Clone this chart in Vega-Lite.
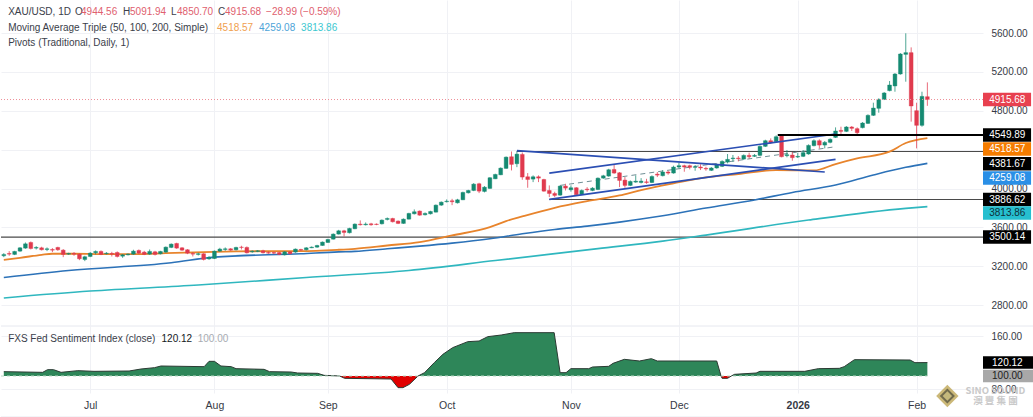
{"$schema":"https://vega.github.io/schema/vega-lite/v6.json","background":"#ffffff","padding":0,"spacing":0,"config":{"view":{"stroke":null},"font":"Liberation Sans","concat":{"spacing":0}},
"datasets":{
"candles":[
{"i":-16,"o":3308,"h":3335,"l":3294,"c":3322},{"i":-15,"o":3332,"h":3356,"l":3308,"c":3325},{"i":-14,"o":3322,"h":3359,"l":3315,"c":3353},{"i":-13,"o":3356,"h":3397,"l":3349,"c":3390},{"i":-12,"o":3387,"h":3445,"l":3380,"c":3431},{"i":-11,"o":3445,"h":3455,"l":3373,"c":3383},{"i":-10,"o":3387,"h":3407,"l":3373,"c":3394},{"i":-9,"o":3390,"h":3401,"l":3363,"c":3370},{"i":-8,"o":3373,"h":3394,"l":3356,"c":3380},{"i":-7,"o":3373,"h":3387,"l":3346,"c":3366},{"i":-6,"o":3394,"h":3401,"l":3359,"c":3370},{"i":-5,"o":3366,"h":3377,"l":3294,"c":3322},{"i":-4,"o":3325,"h":3339,"l":3318,"c":3332},{"i":-3,"o":3332,"h":3346,"l":3308,"c":3325},{"i":-2,"o":3325,"h":3332,"l":3263,"c":3277},{"i":-1,"o":3270,"h":3308,"l":3253,"c":3298},
{"i":0,"o":3301,"h":3346,"l":3294,"c":3335},{"i":1,"o":3339,"h":3363,"l":3322,"c":3353},{"i":2,"o":3353,"h":3363,"l":3315,"c":3322},{"i":3,"o":3329,"h":3346,"l":3322,"c":3335},{"i":4,"o":3332,"h":3349,"l":3301,"c":3325},{"i":5,"o":3342,"h":3353,"l":3291,"c":3301},{"i":6,"o":3304,"h":3325,"l":3287,"c":3318},{"i":7,"o":3318,"h":3332,"l":3311,"c":3325},{"i":8,"o":3325,"h":3370,"l":3318,"c":3356},{"i":9,"o":3363,"h":3373,"l":3325,"c":3335},{"i":10,"o":3346,"h":3359,"l":3315,"c":3322},{"i":11,"o":3325,"h":3373,"l":3318,"c":3353},{"i":12,"o":3349,"h":3359,"l":3311,"c":3322},{"i":13,"o":3329,"h":3359,"l":3322,"c":3353},{"i":14,"o":3346,"h":3404,"l":3339,"c":3397},{"i":15,"o":3394,"h":3435,"l":3387,"c":3428},{"i":16,"o":3435,"h":3442,"l":3380,"c":3387},{"i":17,"o":3390,"h":3397,"l":3359,"c":3366},{"i":18,"o":3370,"h":3377,"l":3325,"c":3335},{"i":19,"o":3332,"h":3346,"l":3301,"c":3325},{"i":20,"o":3322,"h":3339,"l":3311,"c":3329},{"i":21,"o":3329,"h":3335,"l":3260,"c":3270},{"i":22,"o":3277,"h":3304,"l":3266,"c":3291},
{"i":23,"o":3280,"h":3363,"l":3274,"c":3356},{"i":24,"o":3356,"h":3390,"l":3349,"c":3377},{"i":25,"o":3373,"h":3394,"l":3359,"c":3380},{"i":26,"o":3380,"h":3387,"l":3359,"c":3366},{"i":27,"o":3370,"h":3401,"l":3363,"c":3394},{"i":28,"o":3397,"h":3411,"l":3373,"c":3394},{"i":29,"o":3394,"h":3404,"l":3332,"c":3339},{"i":30,"o":3349,"h":3363,"l":3339,"c":3356},{"i":31,"o":3353,"h":3366,"l":3346,"c":3359},{"i":32,"o":3359,"h":3370,"l":3332,"c":3339},{"i":33,"o":3342,"h":3353,"l":3329,"c":3335},{"i":34,"o":3342,"h":3349,"l":3325,"c":3335},{"i":35,"o":3342,"h":3349,"l":3315,"c":3322},{"i":36,"o":3318,"h":3356,"l":3311,"c":3349},{"i":37,"o":3349,"h":3356,"l":3322,"c":3329},{"i":38,"o":3346,"h":3383,"l":3339,"c":3377},{"i":39,"o":3373,"h":3380,"l":3359,"c":3366},{"i":40,"o":3370,"h":3397,"l":3363,"c":3390},{"i":41,"o":3390,"h":3404,"l":3387,"c":3397},{"i":42,"o":3397,"h":3421,"l":3390,"c":3414},{"i":43,"o":3414,"h":3455,"l":3411,"c":3449},
{"i":44,"o":3445,"h":3483,"l":3442,"c":3476},{"i":45,"o":3479,"h":3538,"l":3476,"c":3531},{"i":46,"o":3531,"h":3575,"l":3527,"c":3565},{"i":47,"o":3565,"h":3575,"l":3507,"c":3548},{"i":48,"o":3545,"h":3596,"l":3538,"c":3589},{"i":49,"o":3586,"h":3641,"l":3582,"c":3634},{"i":50,"o":3634,"h":3672,"l":3620,"c":3627},{"i":51,"o":3627,"h":3651,"l":3620,"c":3634},{"i":52,"o":3637,"h":3647,"l":3617,"c":3627},{"i":53,"o":3634,"h":3641,"l":3623,"c":3630},{"i":54,"o":3637,"h":3682,"l":3630,"c":3675},{"i":55,"o":3682,"h":3702,"l":3672,"c":3692},{"i":56,"o":3692,"h":3699,"l":3651,"c":3658},{"i":57,"o":3665,"h":3672,"l":3634,"c":3641},{"i":58,"o":3641,"h":3692,"l":3637,"c":3685},{"i":59,"o":3685,"h":3750,"l":3682,"c":3744},{"i":60,"o":3740,"h":3785,"l":3733,"c":3761},{"i":61,"o":3768,"h":3774,"l":3720,"c":3726},{"i":62,"o":3730,"h":3754,"l":3723,"c":3744},{"i":63,"o":3740,"h":3771,"l":3733,"c":3764},{"i":64,"o":3757,"h":3836,"l":3754,"c":3829},{"i":65,"o":3829,"h":3867,"l":3822,"c":3860},
{"i":66,"o":3864,"h":3888,"l":3857,"c":3870},{"i":67,"o":3874,"h":3894,"l":3829,"c":3864},{"i":68,"o":3853,"h":3894,"l":3846,"c":3884},{"i":69,"o":3884,"h":3967,"l":3881,"c":3960},{"i":70,"o":3956,"h":3987,"l":3949,"c":3980},{"i":71,"o":3980,"h":4056,"l":3973,"c":4045},{"i":72,"o":4049,"h":4059,"l":3953,"c":3973},{"i":73,"o":3970,"h":4025,"l":3960,"c":4014},{"i":74,"o":4001,"h":4117,"l":3997,"c":4111},{"i":75,"o":4100,"h":4152,"l":4097,"c":4145},{"i":76,"o":4141,"h":4217,"l":4138,"c":4210},{"i":77,"o":4207,"h":4330,"l":4203,"c":4323},{"i":78,"o":4327,"h":4381,"l":4186,"c":4248},{"i":79,"o":4255,"h":4385,"l":4220,"c":4354},{"i":80,"o":4351,"h":4371,"l":4090,"c":4118},{"i":81,"o":4121,"h":4159,"l":4008,"c":4093},{"i":82,"o":4097,"h":4135,"l":4066,"c":4121},{"i":83,"o":4121,"h":4135,"l":4066,"c":4107},{"i":84,"o":4093,"h":4100,"l":3967,"c":3973},{"i":85,"o":3980,"h":4032,"l":3912,"c":3949},{"i":86,"o":3949,"h":3967,"l":3912,"c":3929},{"i":87,"o":3932,"h":4032,"l":3925,"c":4025},{"i":88,"o":4025,"h":4049,"l":3980,"c":4004},
{"i":89,"o":3987,"h":4032,"l":3967,"c":4008},{"i":90,"o":4008,"h":4014,"l":3929,"c":3936},{"i":91,"o":3939,"h":3990,"l":3932,"c":3980},{"i":92,"o":3994,"h":4014,"l":3967,"c":3987},{"i":93,"o":3980,"h":4014,"l":3973,"c":4004},{"i":94,"o":3990,"h":4114,"l":3984,"c":4107},{"i":95,"o":4107,"h":4141,"l":4100,"c":4131},{"i":96,"o":4128,"h":4203,"l":4121,"c":4193},{"i":97,"o":4196,"h":4248,"l":4152,"c":4159},{"i":98,"o":4162,"h":4169,"l":4015,"c":4083},{"i":99,"o":4087,"h":4118,"l":4008,"c":4032},{"i":100,"o":4032,"h":4083,"l":4025,"c":4073},{"i":101,"o":4066,"h":4135,"l":4059,"c":4076},{"i":102,"o":4062,"h":4107,"l":4052,"c":4076},{"i":103,"o":4069,"h":4100,"l":4049,"c":4062},{"i":104,"o":4062,"h":4135,"l":4056,"c":4124},{"i":105,"o":4148,"h":4169,"l":4118,"c":4138},{"i":106,"o":4132,"h":4190,"l":4125,"c":4170},{"i":107,"o":4170,"h":4183,"l":4142,"c":4159},{"i":108,"o":4159,"h":4235,"l":4153,"c":4221},
{"i":109,"o":4221,"h":4266,"l":4207,"c":4235},{"i":110,"o":4235,"h":4245,"l":4173,"c":4221},{"i":111,"o":4235,"h":4245,"l":4197,"c":4218},{"i":112,"o":4218,"h":4242,"l":4183,"c":4224},{"i":113,"o":4221,"h":4249,"l":4190,"c":4211},{"i":114,"o":4207,"h":4224,"l":4183,"c":4201},{"i":115,"o":4187,"h":4221,"l":4180,"c":4211},{"i":116,"o":4211,"h":4256,"l":4204,"c":4245},{"i":117,"o":4228,"h":4290,"l":4221,"c":4279},{"i":118,"o":4272,"h":4355,"l":4259,"c":4300},{"i":119,"o":4307,"h":4345,"l":4276,"c":4314},{"i":120,"o":4314,"h":4334,"l":4279,"c":4307},{"i":121,"o":4303,"h":4351,"l":4297,"c":4341},{"i":122,"o":4341,"h":4369,"l":4307,"c":4327},{"i":123,"o":4331,"h":4355,"l":4324,"c":4341},{"i":124,"o":4341,"h":4444,"l":4334,"c":4434},{"i":125,"o":4434,"h":4502,"l":4427,"c":4492},{"i":126,"o":4492,"h":4516,"l":4458,"c":4472},{"i":127,"o":4482,"h":4547,"l":4475,"c":4533},{"i":128,"o":4550,"h":4557,"l":4321,"c":4327},{"i":129,"o":4338,"h":4396,"l":4321,"c":4348},{"i":130,"o":4345,"h":4375,"l":4286,"c":4317},
{"i":131,"o":4324,"h":4369,"l":4314,"c":4331},{"i":132,"o":4331,"h":4396,"l":4324,"c":4369},{"i":133,"o":4355,"h":4454,"l":4348,"c":4444},{"i":134,"o":4441,"h":4506,"l":4434,"c":4492},{"i":135,"o":4492,"h":4506,"l":4413,"c":4447},{"i":136,"o":4447,"h":4489,"l":4413,"c":4475},{"i":137,"o":4475,"h":4516,"l":4465,"c":4506},{"i":138,"o":4526,"h":4629,"l":4520,"c":4592},{"i":139,"o":4598,"h":4636,"l":4561,"c":4588},{"i":140,"o":4588,"h":4643,"l":4581,"c":4633},{"i":141,"o":4633,"h":4643,"l":4592,"c":4619},{"i":142,"o":4616,"h":4629,"l":4550,"c":4574},{"i":143,"o":4626,"h":4684,"l":4619,"c":4674},{"i":144,"o":4670,"h":4763,"l":4664,"c":4753},{"i":145,"o":4753,"h":4883,"l":4746,"c":4828},{"i":146,"o":4825,"h":4928,"l":4780,"c":4917},{"i":147,"o":4917,"h":4993,"l":4910,"c":4983},{"i":148,"o":5007,"h":5106,"l":5000,"c":5065},{"i":149,"o":5055,"h":5188,"l":4996,"c":5178},{"i":150,"o":5178,"h":5394,"l":5171,"c":5384},{"i":151,"o":5380,"h":5597,"l":5099,"c":5398},{"i":152,"o":5398,"h":5452,"l":4688,"c":4849},{"i":153,"o":4801,"h":4883,"l":4413,"c":4650},{"i":154,"o":4650,"h":4996,"l":4636,"c":4948},{"i":155,"o":4944.56,"h":5091.94,"l":4850.7,"c":4915.68}],
"ma":[
{"s":"MA50","i":-16,"v":3267},{"s":"MA50","i":-13,"v":3287},{"s":"MA50","i":-9,"v":3318},{"s":"MA50","i":-7,"v":3329},{"s":"MA50","i":-3,"v":3329},{"s":"MA50","i":2,"v":3325},{"s":"MA50","i":8,"v":3325},{"s":"MA50","i":14,"v":3335},{"s":"MA50","i":21,"v":3346},{"s":"MA50","i":27,"v":3353},{"s":"MA50","i":33,"v":3356},{"s":"MA50","i":39,"v":3356},{"s":"MA50","i":46,"v":3370},{"s":"MA50","i":49,"v":3380},{"s":"MA50","i":55,"v":3414},{"s":"MA50","i":61,"v":3449},{"s":"MA50","i":67,"v":3517},{"s":"MA50","i":74,"v":3603},{"s":"MA50","i":77,"v":3665},{"s":"MA50","i":80,"v":3713},{"s":"MA50","i":86,"v":3802},{"s":"MA50","i":92,"v":3870},{"s":"MA50","i":98,"v":3929},{"s":"MA50","i":102,"v":3984},{"s":"MA50","i":108,"v":4053},{"s":"MA50","i":114,"v":4115},{"s":"MA50","i":120,"v":4149},{"s":"MA50","i":127,"v":4190},{"s":"MA50","i":134,"v":4186},{"s":"MA50","i":138,"v":4252},{"s":"MA50","i":142,"v":4310},{"s":"MA50","i":148,"v":4379},{"s":"MA50","i":151,"v":4468},{"s":"MA50","i":155,"v":4518.57},
{"s":"MA100","i":-16,"v":3085},{"s":"MA100","i":-4,"v":3157},{"s":"MA100","i":15,"v":3236},{"s":"MA100","i":23,"v":3294},{"s":"MA100","i":39,"v":3329},{"s":"MA100","i":46,"v":3348},{"s":"MA100","i":49,"v":3353},{"s":"MA100","i":55,"v":3380},{"s":"MA100","i":61,"v":3407},{"s":"MA100","i":67,"v":3438},{"s":"MA100","i":74,"v":3483},{"s":"MA100","i":80,"v":3534},{"s":"MA100","i":86,"v":3579},{"s":"MA100","i":92,"v":3613},{"s":"MA100","i":98,"v":3654},{"s":"MA100","i":102,"v":3686},{"s":"MA100","i":106,"v":3720},{"s":"MA100","i":114,"v":3799},{"s":"MA100","i":123,"v":3882},{"s":"MA100","i":130,"v":3960},{"s":"MA100","i":138,"v":4036},{"s":"MA100","i":145,"v":4139},{"s":"MA100","i":151,"v":4218},{"s":"MA100","i":155,"v":4259.08},
{"s":"MA200","i":-16,"v":2874},{"s":"MA200","i":0,"v":2945},{"s":"MA200","i":20,"v":3007},{"s":"MA200","i":40,"v":3085},{"s":"MA200","i":59,"v":3157},{"s":"MA200","i":75,"v":3259},{"s":"MA200","i":94,"v":3382},{"s":"MA200","i":106,"v":3459},{"s":"MA200","i":114,"v":3521},{"s":"MA200","i":133,"v":3676},{"s":"MA200","i":151,"v":3796},{"s":"MA200","i":155,"v":3813.86}],
"pivots":[{"level":3500.14,"from":-16.52,"to":165.3,"w":"thin"},{"level":3886.62,"from":85,"to":165.3,"w":"thin"},{"level":4381.67,"from":79,"to":165.3,"w":"thin"},{"level":4549.89,"from":127.3,"to":165.3,"w":"thick"}],
"trend":[{"n":"A","i":79,"p":4389},{"n":"A","i":136,"p":4170},{"n":"B","i":85,"p":4159},{"n":"B","i":138,"p":4561},{"n":"C","i":85,"p":3888},{"n":"C","i":138,"p":4300}],
"mid":[{"i":87,"p":4032},{"i":138,"p":4430}],
"tags":[{"label":"4915.68","at":4915.68,"tone":"red","from":165.3,"to":174.2,"mid":169.8},{"label":"4549.89","at":4549.89,"tone":"black","from":165.3,"to":174.2,"mid":169.8},{"label":"4518.57","at":4406,"tone":"orange","from":165.3,"to":174.2,"mid":169.8},{"label":"4381.67","at":4255,"tone":"black","from":165.3,"to":174.2,"mid":169.8},{"label":"4259.08","at":4108,"tone":"blue","from":165.3,"to":174.2,"mid":169.8},{"label":"3886.62","at":3886.62,"tone":"black","from":165.3,"to":174.2,"mid":169.8},{"label":"3813.86","at":3748,"tone":"cyan","from":165.3,"to":174.2,"mid":169.8},{"label":"3500.14","at":3500.14,"tone":"black","from":165.3,"to":174.2,"mid":169.8}],
"heads":[{"t":"XAU/USD, 1D","i":-15.2,"p":5811,"tone":"ink"},{"t":"O","i":-2.8,"p":5811,"tone":"ink"},{"t":"4944.56","i":-1.7,"p":5811,"tone":"down"},{"t":"H","i":6.07,"p":5811,"tone":"ink"},{"t":"5091.94","i":7.37,"p":5811,"tone":"down"},{"t":"L","i":14.96,"p":5811,"tone":"ink"},{"t":"4850.70","i":16.07,"p":5811,"tone":"down"},{"t":"C","i":23.67,"p":5811,"tone":"ink"},{"t":"4915.68","i":24.96,"p":5811,"tone":"down"},{"t":"−28.99 (−0.59%)","i":32.56,"p":5811,"tone":"down"},{"t":"Moving Average Triple (50, 100, 200, Simple)","i":-15.2,"p":5651,"tone":"ink"},{"t":"4518.57","i":23.48,"p":5651,"tone":"ma50"},{"t":"4259.08","i":31.26,"p":5651,"tone":"ma100"},{"t":"3813.86","i":39.04,"p":5651,"tone":"ma200"},{"t":"Pivots (Traditional, Daily, 1)","i":-15.2,"p":5497,"tone":"ink"}],
"fed":[{"i":-16,"v":106.5},{"i":-8.8,"v":105.5},{"i":-7.9,"v":109.5},{"i":-6.8,"v":109.5},{"i":-5.4,"v":105.5},{"i":-2.3,"v":108},{"i":0.7,"v":107},{"i":7.2,"v":107.5},{"i":9.4,"v":110.5},{"i":11.9,"v":112.5},{"i":13.1,"v":115},{"i":21.1,"v":114},{"i":22,"v":122},{"i":23,"v":122},{"i":24.2,"v":115},{"i":26.1,"v":114},{"i":27,"v":111},{"i":32.2,"v":110},{"i":33.2,"v":106.5},{"i":37.2,"v":106},{"i":38.4,"v":104.5},{"i":42.1,"v":104},{"i":43.3,"v":101},{"i":46.2,"v":100},{"i":47.1,"v":96.5},{"i":55.7,"v":95.5},{"i":57,"v":82.5},{"i":57.9,"v":82.5},{"i":59.1,"v":87.5},{"i":60.7,"v":100},{"i":61.9,"v":105},{"i":63.7,"v":120},{"i":65.3,"v":132.5},{"i":67.1,"v":142.5},{"i":69.9,"v":151.5},{"i":72,"v":152.5},{"i":73.6,"v":159},{"i":76.1,"v":161.5},{"i":78.5,"v":165},{"i":85.9,"v":165},{"i":87,"v":105},{"i":88.1,"v":105},{"i":89,"v":111},{"i":92.3,"v":111},{"i":93,"v":113.5},{"i":96,"v":114.5},{"i":96.8,"v":119},{"i":98.9,"v":125},{"i":101.7,"v":122.5},{"i":103.9,"v":126},{"i":105,"v":122.5},{"i":116,"v":122.5},{"i":116.8,"v":100},{"i":117,"v":96.5},{"i":118,"v":96.5},{"i":118.7,"v":100},{"i":119.3,"v":102.5},{"i":123.3,"v":104.5},{"i":124,"v":107},{"i":132.3,"v":107},{"i":134.8,"v":111},{"i":138.7,"v":111.5},{"i":139.6,"v":114},{"i":141.5,"v":124.5},{"i":151.8,"v":124},{"i":152.7,"v":120},{"i":155,"v":120.12}],
"fedTags":[{"label":"120.12","at":120.12,"tone":"black","from":165.3,"to":174.6,"mid":169.8},{"label":"100.00","at":100,"tone":"grey","from":165.3,"to":174.6,"mid":169.8}],
"fedHeads":[{"t":"FXS Fed Sentiment Index (close)","i":-15.2,"v":155.5,"tone":"ink"},{"t":"120.12","i":13.2,"v":155.5,"tone":"strong"},{"t":"100.00","i":19.9,"v":155.5,"tone":"muted"}],
"marks":[{"t":"SINO SOUND","i":167.6,"v":77.5},{"t":"澳 豐 集 團","i":167.6,"v":62.5}],
"frame":[{"v":175,"from":-16.52,"to":174.8},{"v":38.5,"from":-16.52,"to":174.8}],
"emblem":[{"i":158.7,"v":70}]
},
"vconcat":[
{"width":982,"height":325,
"encoding":{"x":{"field":"i","type":"quantitative","scale":{"domain":[-16.52,165.3],"nice":false,"zero":false,"padding":0},"axis":{"values":[0,23,44,66,89,109,131,153],"labels":false,"ticks":false,"domain":false,"title":null,"grid":true,"gridColor":"#f0f1f5"}}},
"layer":[
{"data":{"name":"pivots"},"transform":[{"filter":"datum.w=='thin'"}],"mark":{"type":"rule","color":"#4a4a4a","strokeWidth":1.1},"encoding":{"x":{"field":"from","type":"quantitative"},"x2":{"field":"to"},"y":{"field":"level","type":"quantitative","scale":{"domain":[2596,5939.5],"nice":false,"zero":false},"axis":{"orient":"right","values":[2800,3200,3600,4000,4400,4800,5200,5600],"format":".2f","title":null,"domain":false,"ticks":false,"labelPadding":8,"labelFontSize":10,"labelColor":"#363a45","labelFont":"Liberation Sans","labelOverlap":false,"grid":true,"gridColor":"#f0f1f5"}}}},
{"data":{"name":"ma"},"transform":[{"filter":"datum.s=='MA200'"}],"mark":{"type":"line","color":"#2fb7bf","strokeWidth":1.6,"interpolate":"monotone"},"encoding":{"y":{"field":"v","type":"quantitative"}}},
{"data":{"name":"ma"},"transform":[{"filter":"datum.s=='MA100'"}],"mark":{"type":"line","color":"#2c72b8","strokeWidth":1.6,"interpolate":"monotone"},"encoding":{"y":{"field":"v","type":"quantitative"}}},
{"data":{"name":"ma"},"transform":[{"filter":"datum.s=='MA50'"}],"mark":{"type":"line","color":"#e8842c","strokeWidth":1.8,"interpolate":"monotone"},"encoding":{"y":{"field":"v","type":"quantitative"}}},
{"data":{"name":"mid"},"mark":{"type":"line","color":"#6f8f95","strokeWidth":1,"strokeDash":[5,4]},"encoding":{"y":{"field":"p","type":"quantitative"}}},
{"data":{"name":"candles"},"mark":{"type":"rule","strokeWidth":1,"opacity":0.75},"encoding":{"y":{"field":"l","type":"quantitative"},"y2":{"field":"h"},"color":{"condition":{"test":"datum.c>=datum.o","value":"#158a72"},"value":"#e03a4e"}}},
{"data":{"name":"candles"},"mark":{"type":"bar","size":3.8,"strokeWidth":0.4},"encoding":{"y":{"field":"o","type":"quantitative"},"y2":{"field":"c"},"color":{"condition":{"test":"datum.c>=datum.o","value":"#158a72"},"value":"#e03a4e"},"stroke":{"condition":{"test":"datum.c>=datum.o","value":"#158a72"},"value":"#e03a4e"}}},
{"data":{"name":"trend"},"mark":{"type":"line","color":"#2b4eb3","strokeWidth":1.7},"encoding":{"detail":{"field":"n"},"y":{"field":"p","type":"quantitative"}}},
{"data":{"name":"pivots"},"transform":[{"filter":"datum.w=='thick'"}],"mark":{"type":"rule","color":"#000000","strokeWidth":2},"encoding":{"x":{"field":"from","type":"quantitative"},"x2":{"field":"to"},"y":{"field":"level","type":"quantitative"}}},
{"data":{"values":[{"price":4915.68,"from":-16.52,"to":165.3}]},"mark":{"type":"rule","color":"#ee8f98","strokeWidth":1,"strokeDash":[1,2]},"encoding":{"x":{"field":"from","type":"quantitative"},"x2":{"field":"to"},"y":{"field":"price","type":"quantitative"}}},
{"data":{"name":"tags"},"mark":{"type":"rule","strokeWidth":13.5},"encoding":{"x":{"field":"from","type":"quantitative"},"x2":{"field":"to"},"y":{"field":"at","type":"quantitative"},"color":{"field":"tone","type":"nominal","legend":null,"scale":{"domain":["red","black","orange","blue","cyan"],"range":["#e8404f","#000000","#f57c00","#2a8fe6","#26bfcf"]}}}},
{"data":{"name":"tags"},"mark":{"type":"text","align":"center","baseline":"middle","fontSize":10},"encoding":{"x":{"field":"mid","type":"quantitative"},"y":{"field":"at","type":"quantitative"},"text":{"field":"label"},"color":{"condition":{"test":"datum.tone=='cyan'","value":"#10303a"},"value":"#ffffff"}}},
{"data":{"name":"heads"},"mark":{"type":"text","align":"left","baseline":"middle","fontSize":10},"encoding":{"x":{"field":"i","type":"quantitative"},"y":{"field":"p","type":"quantitative"},"text":{"field":"t"},"color":{"condition":[{"test":"datum.tone=='ink'","value":"#3a3e4a"},{"test":"datum.tone=='down'","value":"#e0606e"},{"test":"datum.tone=='ma50'","value":"#f0a050"},{"test":"datum.tone=='ma100'","value":"#4da3d8"},{"test":"datum.tone=='ma200'","value":"#3cc8d0"}],"value":"#3a3e4a"}}}
],"resolve":{"scale":{"color":"independent"}}},
{"width":982,"height":67,
"encoding":{"x":{"field":"i","type":"quantitative","scale":{"domain":[-16.52,165.3],"nice":false,"zero":false,"padding":0},"axis":{"values":[0,23,44,66,89,109,131,153],"labelExpr":"datum.value==0?'Jul':datum.value==23?'Aug':datum.value==44?'Sep':datum.value==66?'Oct':datum.value==89?'Nov':datum.value==109?'Dec':datum.value==131?'2026':'Feb'","labelFontWeight":{"condition":{"test":"datum.value==131","value":"bold"},"value":"normal"},"labelFontSize":10.5,"labelColor":"#363a45","labelPadding":7,"labelFlush":false,"ticks":false,"domain":false,"title":null,"grid":true,"gridColor":"#f0f1f5"}}},
"layer":[
{"data":{"name":"fed"},"transform":[{"filter":"datum.v>=100"}],"mark":{"type":"area","color":"#2e8659","line":false},"encoding":{"y":{"field":"v","type":"quantitative","scale":{"domain":[74.5,175],"nice":false,"zero":false},"axis":{"orient":"right","values":[80,120,160],"format":".2f","title":null,"domain":false,"ticks":false,"labelPadding":8,"labelFontSize":10,"labelColor":"#363a45","labelOverlap":false,"grid":true,"gridColor":"#f0f1f5"}},"y2":{"datum":100}}},
{"data":{"name":"fed"},"transform":[{"filter":"datum.v<=100"}],"mark":{"type":"area","color":"#e00000"},"encoding":{"y":{"field":"v","type":"quantitative"},"y2":{"datum":100}}},
{"data":{"name":"fed"},"mark":{"type":"line","color":"#2b3a33","strokeWidth":1},"encoding":{"y":{"field":"v","type":"quantitative"}}},
{"data":{"values":[{"level":100,"from":-16.52,"to":155}]},"mark":{"type":"rule","color":"#b8d8c4","strokeWidth":1,"strokeDash":[3,3]},"encoding":{"x":{"field":"from","type":"quantitative"},"x2":{"field":"to"},"y":{"field":"level","type":"quantitative"}}},
{"data":{"name":"frame"},"mark":{"type":"rule","color":"#e6e8ef","strokeWidth":1},"encoding":{"x":{"field":"from","type":"quantitative"},"x2":{"field":"to"},"y":{"field":"v","type":"quantitative"}}},
{"data":{"name":"fedTags"},"mark":{"type":"rule","strokeWidth":12.5},"encoding":{"x":{"field":"from","type":"quantitative"},"x2":{"field":"to"},"y":{"field":"at","type":"quantitative"},"color":{"field":"tone","type":"nominal","legend":null,"scale":{"domain":["black","grey"],"range":["#000000","#a8a8a8"]}}}},
{"data":{"name":"fedTags"},"mark":{"type":"text","align":"center","baseline":"middle","fontSize":10},"encoding":{"x":{"field":"mid","type":"quantitative"},"y":{"field":"at","type":"quantitative"},"text":{"field":"label"},"color":{"condition":{"test":"datum.tone=='grey'","value":"#202020"},"value":"#ffffff"}}},
{"data":{"name":"fedHeads"},"mark":{"type":"text","align":"left","baseline":"middle","fontSize":10},"encoding":{"x":{"field":"i","type":"quantitative"},"y":{"field":"v","type":"quantitative"},"text":{"field":"t"},"color":{"condition":[{"test":"datum.tone=='muted'","value":"#a8abb2"},{"test":"datum.tone=='strong'","value":"#131722"}],"value":"#3a3e4a"},"fontWeight":{"condition":{"test":"datum.tone=='strong'","value":"bold"},"value":"normal"}}},
{"data":{"name":"emblem"},"mark":{"type":"point","shape":"diamond","filled":true,"size":500,"color":"#b59a3e"},"encoding":{"y":{"field":"v","type":"quantitative"}}},
{"data":{"name":"emblem"},"mark":{"type":"point","shape":"diamond","filled":true,"size":230,"color":"#4a4a3a"},"encoding":{"y":{"field":"v","type":"quantitative"}}},
{"data":{"name":"emblem"},"mark":{"type":"point","shape":"diamond","filled":true,"size":90,"color":"#e8d890"},"encoding":{"y":{"field":"v","type":"quantitative"}}},
{"data":{"name":"marks"},"mark":{"type":"text","align":"center","baseline":"middle","fontSize":9.5,"fontWeight":"bold","font":"Noto Sans CJK TC","color":"#c9c9c9"},"encoding":{"x":{"field":"i","type":"quantitative"},"y":{"field":"v","type":"quantitative"},"text":{"field":"t"}}}
],"resolve":{"scale":{"color":"independent"}}}
]}
